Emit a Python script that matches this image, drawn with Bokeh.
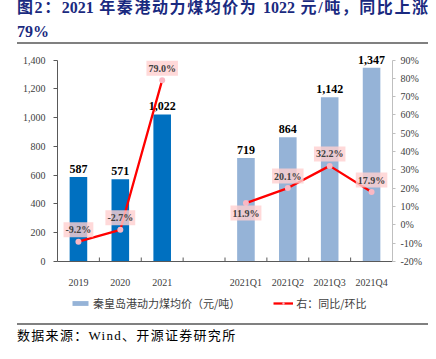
from bokeh.plotting import figure
from bokeh.layouts import column
from bokeh.models import (Range1d, FactorRange, LinearAxis, FixedTicker, NumeralTickFormatter,
                          PrintfTickFormatter, Legend, LegendItem, ColumnDataSource, Div)
from bokeh.core.properties import value
from bokeh.embed import file_html
from bokeh.resources import INLINE
import math

# ---- data ----
categories = ["2019", "2020", "2021", " ", "2021Q1", "2021Q2", "2021Q3", "2021Q4"]
bar_cats = ["2019", "2020", "2021", "2021Q1", "2021Q2", "2021Q3", "2021Q4"]
prices = [587, 571, 1022, 719, 864, 1142, 1347]
annual_cats = ["2019", "2020", "2021"]
annual_yoy = [-9.2, -2.7, 79.0]
quarter_cats = ["2021Q1", "2021Q2", "2021Q3", "2021Q4"]
quarter_chg = [11.9, 20.1, 32.2, 17.9]
left_ticks = [0, 200, 400, 600, 800, 1000, 1200, 1400]
right_ticks = [-20, -10, 0, 10, 20, 30, 40, 50, 60, 70, 80, 90]

title1 = "图2：2021 年秦港动力煤均价为 1022 元/吨，同比上涨"
title2 = "79%"
source_text = "数据来源：Wind、开源证券研究所"
bar_legend = "秦皇岛港动力煤均价（元/吨）"
line_legend = "右：同比/环比"

DARK = "#0070C0"
LIGHT = "#95B3D7"
RED = "#FF0000"
PINK = "#F9B8C4"
SERIF = "'Liberation Serif', 'Noto Sans CJK SC'"
TITLE_C = "#1A2A80"
W = 432
BL, BR = 57, 40   # shared left/right borders so the stacked frames line up

# ---------------- top: title + rule (HTML) ----------------
top_html = (
    f'<div style="position:relative;width:{W}px;height:48px;">'
    f'<div style="position:absolute;left:17px;top:-1px;width:411px;font-family:{SERIF};'
    f'font-weight:bold;font-size:16px;line-height:18px;color:{TITLE_C};white-space:nowrap;'
    f'text-align:justify;text-align-last:justify;">{title1}</div>'
    f'<div style="position:absolute;left:17px;top:23px;font-family:{SERIF};font-weight:bold;'
    f'font-size:16px;line-height:18px;color:{TITLE_C};">{title2}</div>'
    f'<div style="position:absolute;left:17px;top:42px;width:411px;height:2px;background:#808080;"></div>'
    '</div>'
)
top = Div(text=top_html, width=W, height=48, styles={"margin": "0", "padding": "0"})

# ---------------- main chart ----------------
y_end = 1480
pct_end = right_ticks[0] + (y_end - left_ticks[0]) * (right_ticks[-1] - right_ticks[0]) / (left_ticks[-1] - left_ticks[0])
p = figure(width=W, height=242, x_range=FactorRange(factors=categories, range_padding=0),
           y_range=Range1d(left_ticks[0], y_end),
           output_backend="svg", toolbar_location=None,
           min_border_left=BL, min_border_right=BR, min_border_top=0, min_border_bottom=25)
p.outline_line_color = None
p.xgrid.grid_line_color = None
p.ygrid.grid_line_color = None
p.extra_y_ranges = {"pct": Range1d(right_ticks[0], pct_end)}

bar_colors = [DARK if c in annual_cats else LIGHT for c in bar_cats]
bsrc = ColumnDataSource(dict(x=bar_cats, top=prices, color=bar_colors,
                             lab=[f"{v:,}" for v in prices]))
p.vbar(x="x", top="top", width=0.42, fill_color="color", line_color=None, source=bsrc)
p.text(x="x", y="top", text="lab", source=bsrc, text_font=value("Liberation Serif"),
       text_font_style="bold", text_font_size="12px", text_color="#000000",
       text_align="center", text_baseline="bottom", y_offset=-4)

p.line(annual_cats, annual_yoy, y_range_name="pct", line_color=RED, line_width=2.3)
p.scatter(annual_cats, annual_yoy, y_range_name="pct", size=6, fill_color=PINK, line_color=None)
p.line(quarter_cats, quarter_chg, y_range_name="pct", line_color=RED, line_width=2.3)
p.scatter(quarter_cats, quarter_chg, y_range_name="pct", size=6, fill_color=PINK, line_color=None)

pct_x = annual_cats + quarter_cats
pct_v = annual_yoy + quarter_chg
below = [c == "2021Q1" for c in pct_x]
for flag, off in ((False, -12), (True, 10)):
    xs = [x for x, b in zip(pct_x, below) if b == flag]
    vs = [v for v, b in zip(pct_v, below) if b == flag]
    p.text(x=xs, y=vs, text=[f"{v:.1f}%" for v in vs], y_range_name="pct",
           text_font=value("Liberation Serif"), text_font_style="bold", text_font_size="10px",
           text_color="#404040", text_align="center", text_baseline="middle", y_offset=off,
           background_fill_color="#FFD0D0", background_fill_alpha=0.8, padding=2)

# ticks between categories (right edge of each category)
tsrc = ColumnDataSource(dict(x=[(c, 0.5) for c in categories[:-1]],
                             y=[left_ticks[0]] * (len(categories) - 1)))
p.scatter(x="x", y="y", source=tsrc, marker="dash", angle=math.pi / 2, size=8,
          line_color="#595959", line_width=1)

xa = p.xaxis[0]
xa.axis_line_color = "#595959"
xa.major_tick_line_color = None
xa.minor_tick_line_color = None
xa.major_label_standoff = 9
xa.major_label_text_font = SERIF
xa.major_label_text_font_size = "10px"
xa.major_label_text_color = "#404040"

ya = p.yaxis[0]
ya.ticker = FixedTicker(ticks=left_ticks)
ya.bounds = (left_ticks[0], left_ticks[-1])
ya.formatter = NumeralTickFormatter(format="0,0")
ya.axis_line_color = "#595959"
ya.major_tick_line_color = "#595959"
ya.major_tick_out = 4
ya.major_tick_in = 0
ya.minor_tick_line_color = None
ya.major_label_standoff = 8
ya.major_label_text_font = SERIF
ya.major_label_text_font_size = "10px"
ya.major_label_text_color = "#404040"

ra = LinearAxis(y_range_name="pct", ticker=FixedTicker(ticks=right_ticks),
                formatter=PrintfTickFormatter(format="%d%%"),
                bounds=(right_ticks[0], right_ticks[-1]))
ra.axis_line_color = "#BFBFBF"
ra.major_tick_line_color = "#BFBFBF"
ra.major_tick_out = 3
ra.major_tick_in = 0
ra.minor_tick_line_color = None
ra.major_label_standoff = 5
ra.major_label_text_font = SERIF
ra.major_label_text_font_size = "10px"
ra.major_label_text_color = "#404040"
p.add_layout(ra, "right")

# ---------------- legend strip ----------------
LH = 26
leg = figure(width=W, height=LH, x_range=Range1d(0, 1), y_range=Range1d(0, 1),
             x_axis_type=None, y_axis_type=None, output_backend="svg", toolbar_location=None,
             min_border_left=BL, min_border_right=BR, min_border_top=0, min_border_bottom=0)
leg.outline_line_color = None
leg.grid.visible = False
# legend-only proxies: one point each, placed outside the strip's visible range
lb = leg.vbar(x=[-5], top=[-5], bottom=[-6], width=0.1, fill_color=LIGHT, line_color=None)
ll = leg.line(x=[-5, -4], y=[-5, -5], line_color=RED, line_width=2.3)
ls = leg.scatter(x=[-5], y=[-5], size=6, fill_color=PINK, line_color=None)
legend = Legend(items=[LegendItem(label=bar_legend, renderers=[lb]),
                       LegendItem(label=line_legend, renderers=[ll, ls])],
                orientation="horizontal", location=(13, LH - 12 - 9), padding=0, margin=0,
                spacing=33, glyph_width=20, glyph_height=6, label_height=10,
                label_standoff=3, background_fill_alpha=0, border_line_color=None,
                label_text_font="Noto Sans CJK SC", label_text_font_size="11px",
                label_text_color="#404040")
leg.add_layout(legend)

# ---------------- bottom: rule + source (HTML) ----------------
bot_html = (
    f'<div style="position:relative;width:{W}px;height:36px;">'
    f'<div style="position:absolute;left:17px;top:7px;width:411px;height:2px;background:#808080;"></div>'
    f'<div style="position:absolute;left:17px;top:12px;font-family:{SERIF};font-size:13px;'
    f'line-height:16px;letter-spacing:1.3px;color:#000000;white-space:nowrap;">{source_text}</div>'
    '</div>'
)
bot = Div(text=bot_html, width=W, height=36, styles={"margin": "0", "padding": "0"})

layout = column(top, p, leg, bot, spacing=0)
open("out.html", "w").write(file_html(layout, INLINE))
